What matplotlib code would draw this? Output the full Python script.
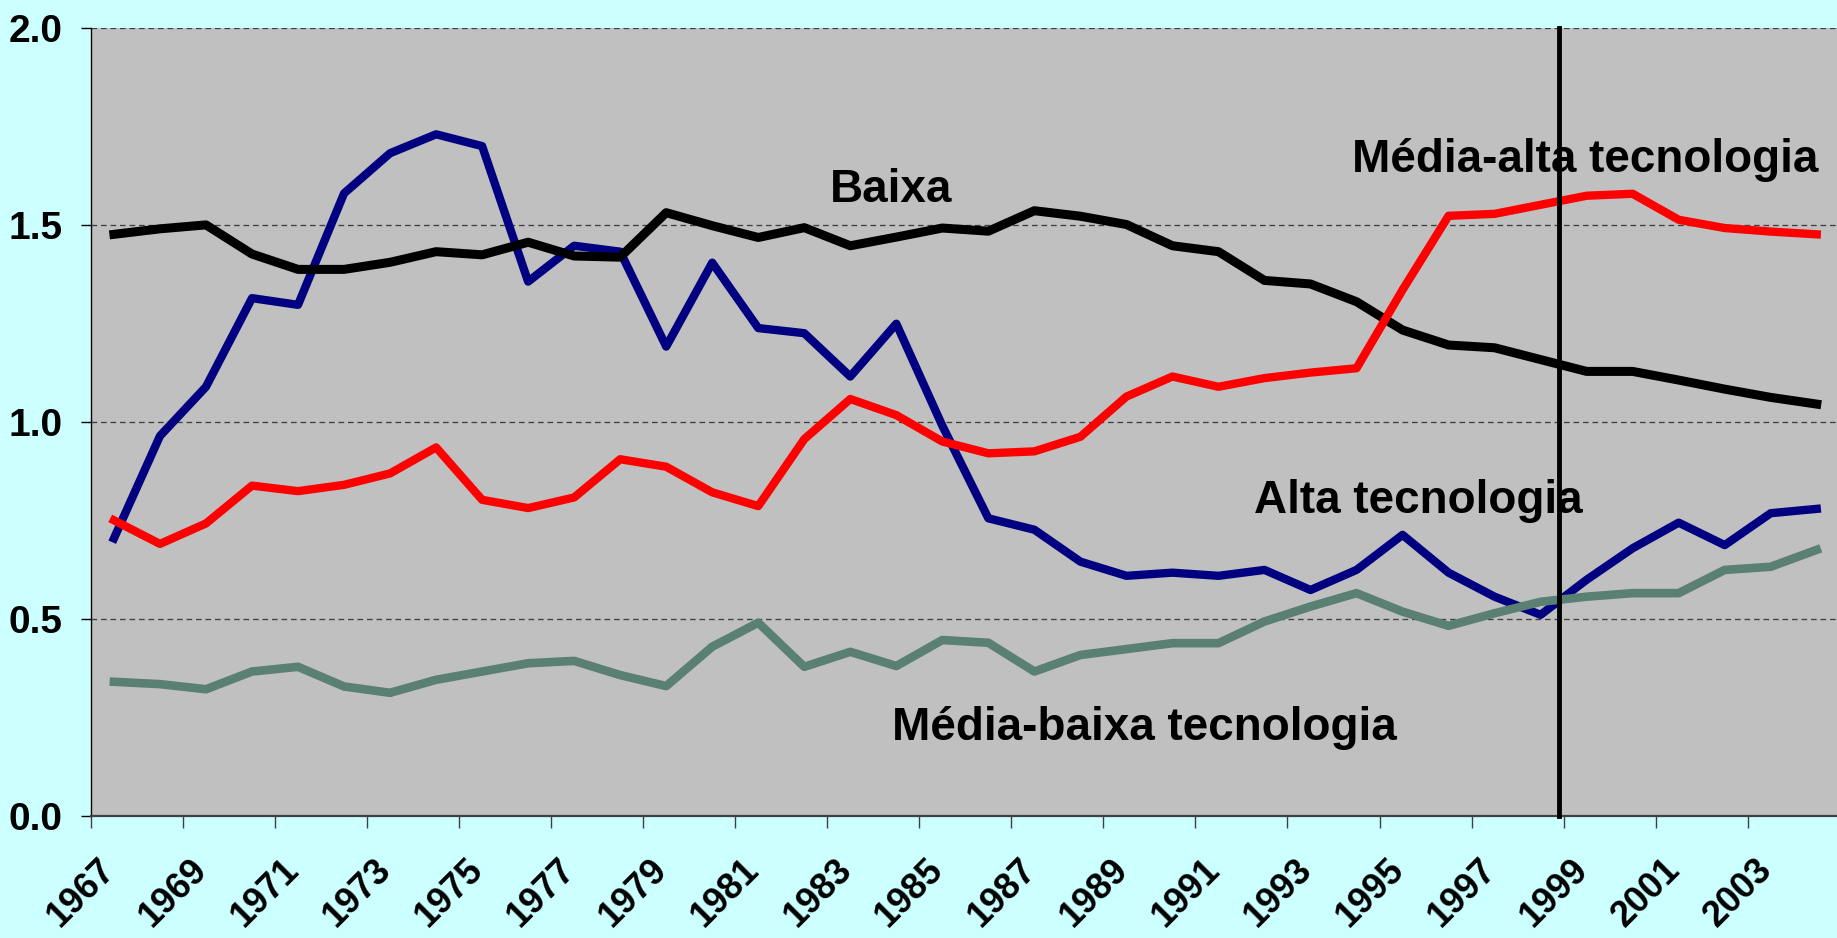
import numpy as np
import matplotlib.pyplot as plt
from matplotlib import transforms

plt.rcParams['font.family'] = ['Liberation Sans', 'DejaVu Sans']
plt.rcParams['font.weight'] = 'bold'

# anos (categorias) e rotulos do eixo x (um a cada dois anos)
anos = list(range(1967, 2005))
rotulos_x = [str(a) for a in anos[::2]]

# series
baixa = [1.476, 1.490, 1.500, 1.426, 1.387, 1.387, 1.405, 1.432, 1.424, 1.456,
         1.421, 1.418, 1.531, 1.498, 1.468, 1.493, 1.447, 1.469, 1.492, 1.484,
         1.536, 1.522, 1.501, 1.447, 1.432, 1.359, 1.350, 1.305, 1.233, 1.195,
         1.188, 1.158, 1.128, 1.128, 1.106, 1.083, 1.062, 1.045]
alta = [0.704, 0.964, 1.089, 1.314, 1.297, 1.580, 1.682, 1.730, 1.700, 1.356,
        1.447, 1.432, 1.191, 1.404, 1.238, 1.225, 1.115, 1.249, 0.990, 0.755,
        0.726, 0.645, 0.609, 0.617, 0.609, 0.624, 0.573, 0.624, 0.713, 0.617,
        0.556, 0.510, 0.599, 0.679, 0.744, 0.687, 0.768, 0.779]
media_alta = [0.750, 0.690, 0.742, 0.838, 0.824, 0.840, 0.869, 0.935, 0.802, 0.781,
              0.808, 0.905, 0.886, 0.821, 0.786, 0.956, 1.058, 1.017, 0.950, 0.920,
              0.925, 0.962, 1.064, 1.115, 1.089, 1.111, 1.125, 1.136, 1.335, 1.523,
              1.528, 1.551, 1.574, 1.579, 1.513, 1.492, 1.483, 1.476]
media_baixa = [0.340, 0.334, 0.321, 0.366, 0.378, 0.328, 0.312, 0.345, 0.366, 0.387,
               0.393, 0.357, 0.329, 0.429, 0.490, 0.378, 0.416, 0.380, 0.446, 0.439,
               0.366, 0.408, 0.423, 0.438, 0.438, 0.493, 0.531, 0.565, 0.518, 0.482,
               0.514, 0.543, 0.556, 0.565, 0.565, 0.624, 0.632, 0.675]

x = np.arange(len(anos))

fig = plt.figure(figsize=(18.37, 9.38), dpi=100, facecolor='#CCFFFF')
ax = fig.add_axes([0.0495, 0.1304, 0.952, 0.8398])
ax.set_facecolor('#C0C0C0')

# grade tracejada
for v in [0.5, 1.0, 1.5, 2.0]:
    ax.axhline(v, color='#404040', linewidth=0.95, linestyle=(0, (4.3, 2.9)), zorder=1)

ax.plot(x, alta, color='#000080', linewidth=6.0, zorder=3)
ax.plot(x, baixa, color='black', linewidth=6.5, zorder=3)
ax.plot(x, media_alta, color='#FF0000', linewidth=6.0, zorder=3)
ax.plot(x, media_baixa, color='#5A8073', linewidth=6.2, zorder=3)

# linha vertical (1999)
ax.plot([31.4, 31.4], [0, 2.0], color='black', linewidth=3.5, zorder=4, clip_on=False)

ax.set_xlim(-0.5, len(anos) - 0.5)
ax.set_ylim(0, 2.0)

ax.set_yticks([0.0, 0.5, 1.0, 1.5, 2.0])
ax.set_yticklabels(['0.0', '0.5', '1.0', '1.5', '2.0'], fontsize=28, fontweight='bold')
ax.tick_params(axis='y', length=7.2, width=1, pad=13, color='black')

ax.set_xticks(np.arange(-0.5, len(anos), 2))
ax.set_xticklabels([])
ax.tick_params(axis='x', length=8.6, width=1, color='#404040', direction='out')

# rotulos do eixo x inclinados
trans = transforms.blended_transform_factory(ax.transData, ax.transAxes)
offset = transforms.ScaledTranslation(-4 / 100, -49 / 100, fig.dpi_scale_trans)
for i, lab in zip(x[::2], rotulos_x):
    ax.text(i, 0, lab, transform=trans + offset, rotation=45, rotation_mode='anchor',
            ha='right', va='center', fontsize=26, fontweight='bold', clip_on=False)

ax.spines['top'].set_visible(False)
ax.spines['right'].set_visible(False)
ax.spines['left'].set_color('black')
ax.spines['left'].set_linewidth(1)
ax.spines['bottom'].set_color('#404040')
ax.spines['bottom'].set_linewidth(1.6)

# nomes das series
ax.text(16.88, 1.558, 'Baixa', fontsize=33, fontweight='bold', ha='center', va='baseline', zorder=5)
ax.text(31.96, 1.635, 'Média-alta tecnologia', fontsize=33, fontweight='bold', ha='center', va='baseline', zorder=2)
ax.text(28.35, 0.769, 'Alta tecnologia', fontsize=33, fontweight='bold', ha='center', va='baseline', zorder=2)
ax.text(22.4, 0.192, 'Média-baixa tecnologia', fontsize=33, fontweight='bold', ha='center', va='baseline', zorder=5)

fig.savefig('out.png', dpi=100, facecolor=fig.get_facecolor())
